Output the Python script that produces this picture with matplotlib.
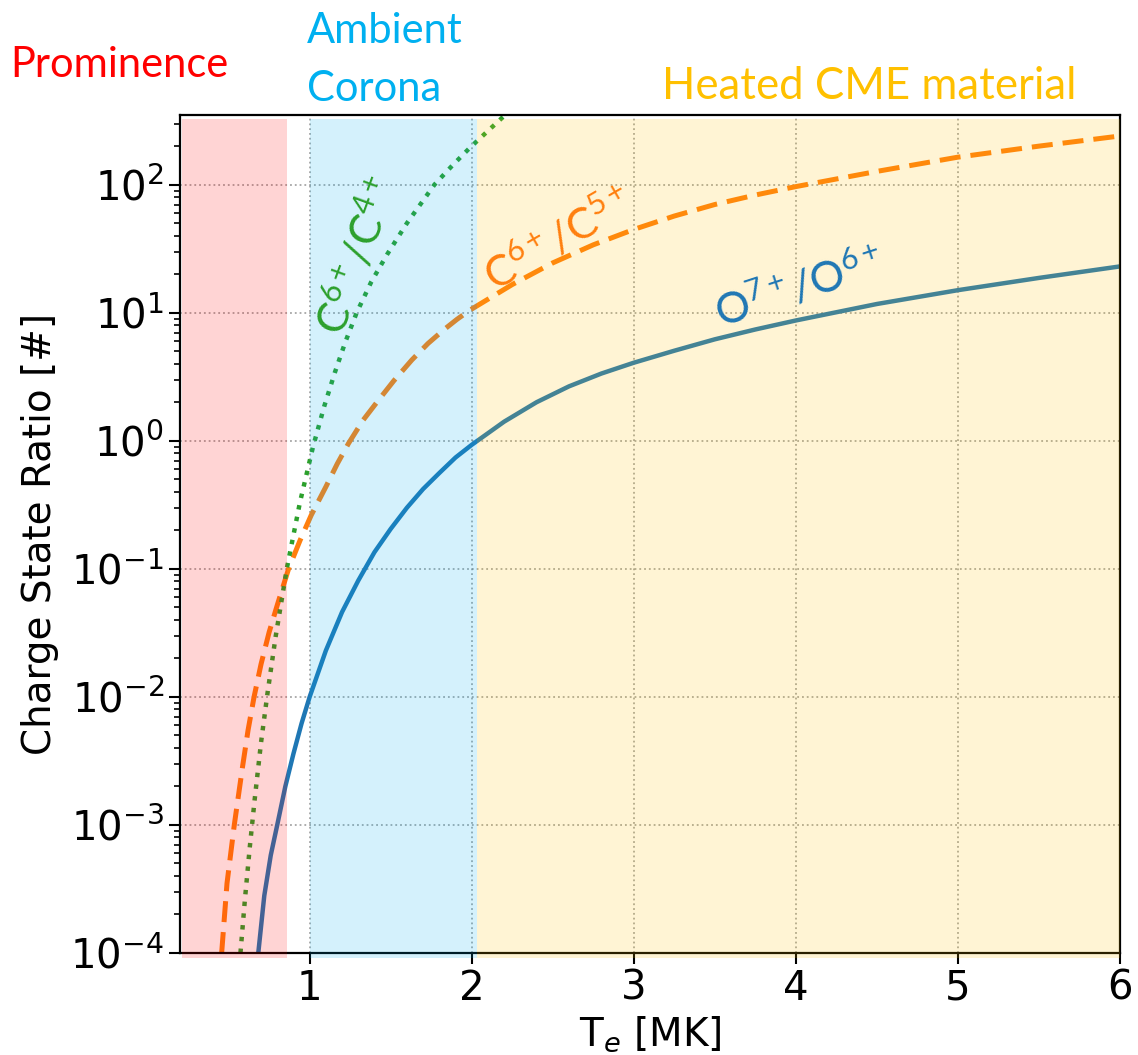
import matplotlib.pyplot as plt

plt.rcParams['mathtext.fontset'] = 'dejavusans'
plt.rcParams['mathtext.rm'] = 'Lato'
plt.rcParams['mathtext.it'] = 'Lato:italic'

# O7+/O6+
t_o = [0.683, 0.72, 0.76, 0.8, 0.85, 0.9, 0.95, 1.0, 1.1, 1.2, 1.3, 1.4, 1.5, 1.6,
       1.7, 1.8, 1.9, 2.0, 2.2, 2.4, 2.6, 2.8, 3.0, 3.25, 3.5, 3.75, 4.0, 4.5, 5.0,
       5.5, 6.0]
r_o = [1e-4, 2.8e-4, 5.8e-4, 1.0e-3, 2.0e-3, 3.6e-3, 6.2e-3, 1.0e-2, 0.023, 0.046,
       0.081, 0.135, 0.205, 0.30, 0.42, 0.56, 0.74, 0.93, 1.41, 2.0, 2.66, 3.35, 4.07,
       5.05, 6.2, 7.4, 8.7, 11.7, 15, 18.7, 23]

# C6+/C5+
t_c5 = [0.457, 0.49, 0.535, 0.585, 0.62, 0.657, 0.7, 0.75, 0.8, 0.87, 0.94, 1.01,
        1.1, 1.17, 1.24, 1.33, 1.42, 1.52, 1.63, 1.73, 1.83, 1.91, 1.99, 2.25, 2.5,
        2.75, 3.0, 3.25, 3.5, 3.75, 4.0, 4.5, 5.0, 5.5, 6.0]
r_c5 = [1e-4, 3.5e-4, 1e-3, 2.8e-3, 5.5e-3, 1e-2, 1.8e-2, 3.2e-2, 5.2e-2, 0.1,
        0.166, 0.263, 0.437, 0.66, 0.955, 1.45, 2.04, 2.95, 4.27, 5.75, 7.4, 8.9,
        10.5, 16.6, 24.5, 33.9, 44.7, 56.9, 70, 83, 96.6, 127, 164, 200, 240]

# C6+/C4+
t_c4 = [0.573, 0.6, 0.63, 0.66, 0.7, 0.74, 0.79, 0.86, 0.94, 1.02, 1.09, 1.155,
        1.22, 1.29, 1.38, 1.48, 1.6, 1.77, 1.88, 1.99, 2.1, 2.19, 2.25]
r_c4 = [1e-4, 2.57e-4, 6.6e-4, 1.55e-3, 4.4e-3, 1.07e-2, 2.95e-2, 0.102, 0.33,
        0.89, 1.86, 3.4, 5.9, 10, 17.4, 28.8, 50, 100, 141, 195, 263, 335, 389]

# temperature regions
regions = [(0.21, 0.86, '#ff0000'), (1.0, 2.03, '#00b0f0'), (2.03, 6.0, '#ffc000')]

fig = plt.figure(figsize=(11.38, 10.55), dpi=100)
ax = fig.add_axes([180 / 1138, 1 - 953 / 1055, 940 / 1138, 838 / 1055])

ax.plot(t_o, r_o, color='#1f77b4', lw=3.2, zorder=2)
ax.plot(t_c5, r_c5, color='#ff7f0e', lw=3.6, ls=(0, (4.2, 2.0)), zorder=2)
ax.plot(t_c4, r_c4, color='#2ca02c', lw=3.2, ls=':', zorder=2)

for x0, x1, c in regions:
    ax.axvspan(x0, x1, ymin=-0.006, ymax=0.995, color=c, alpha=0.17, lw=0,
               zorder=3, clip_on=False)

ax.set_yscale('log')
ax.set_xlim(0.2, 6)
ax.set_ylim(1e-4, 350)
ax.set_xticks([1, 2, 3, 4, 5, 6])
ax.grid(True, which='major', ls=':', color='gray', lw=1.3, alpha=0.7)
ax.tick_params(which='major', labelsize=29, length=8, width=1.5)
ax.tick_params(which='minor', length=4.5, width=1.2)
for s in ax.spines.values():
    s.set_linewidth(1.6)

ax.set_xlabel('T$_e$ [MK]', fontsize=28, labelpad=4)
ax.set_ylabel('Charge State Ratio [#]', fontsize=28, labelpad=8)

lab = dict(family='Lato', fontsize=31, ha='center', va='center',
           rotation_mode='anchor', math_fontfamily='custom', zorder=5)
ax.text(1.29, 28, r'C$^{\mathrm{6+}}$/C$^{\mathrm{4+}}$', color='#2ca02c', rotation=70, **lab)
ax.text(2.53, 38, r'C$^{\mathrm{6+}}$/C$^{\mathrm{5+}}$', color='#ff7f0e', rotation=30, **lab)
ax.text(4.02, 16, r'O$^{\mathrm{7+}}$/O$^{\mathrm{6+}}$', color='#1f77b4', rotation=18, **lab)

fig.text(10 / 1138, 1 - 77 / 1055, 'Prominence', color='#ff0000', family='Lato',
         fontsize=30, ha='left', va='baseline')
fig.text(307 / 1138, 1 - 60 / 1055, 'Ambient\nCorona', color='#00b0f0', family='Lato',
         fontsize=30, ha='left', va='center', linespacing=1.65)
fig.text(662 / 1138, 1 - 99 / 1055, 'Heated CME material', color='#ffc000', family='Lato',
         fontsize=31.5, ha='left', va='baseline')

fig.savefig('out.png', dpi=100)
